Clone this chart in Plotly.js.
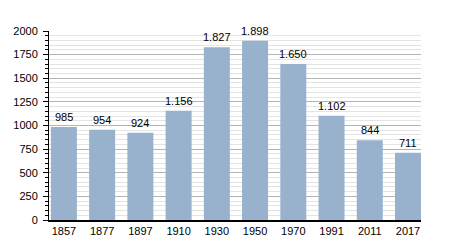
<!DOCTYPE html>
<html>
<head>
<meta charset="utf-8">
<script src="https://cdn.plot.ly/plotly-3.0.1.min.js"></script>
<style>html,body{margin:0;padding:0;background:#fff;}#chart{width:450px;height:250px;}</style>
</head>
<body>
<div id="chart"></div>
<script>
const years = ["1857","1877","1897","1910","1930","1950","1970","1991","2011","2017"];
const population = [985, 954, 924, 1156, 1827, 1898, 1650, 1102, 844, 711];
const yTicks = [0, 250, 500, 750, 1000, 1250, 1500, 1750, 2000];

function fmt(v) {
  const s = String(v);
  return s.length > 3 ? s.slice(0, s.length - 3) + '.' + s.slice(-3) : s;
}

const trace = {
  type: 'bar',
  x: years,
  y: population,
  width: 0.68,
  marker: {color: '#98b2cd', line: {width: 0}},
  hoverinfo: 'none'
};

const annotations = years.map((yr, i) => ({
  x: i, y: population[i], xref: 'x', yref: 'y',
  text: fmt(population[i]),
  showarrow: false, yanchor: 'bottom', xanchor: 'center',
  yshift: 2,
  font: {family: 'Liberation Sans, Arial, sans-serif', size: 11, color: '#000'}
}));

const layout = {
  width: 450, height: 250,
  margin: {l: 49, r: 29, t: 31, b: 30, pad: 0},
  paper_bgcolor: '#fff', plot_bgcolor: '#fff',
  showlegend: false,
  font: {family: 'Liberation Sans, Arial, sans-serif', size: 11, color: '#000'},
  xaxis: {
    type: 'category',
    range: [-0.39, 9.34],
    showline: true, linecolor: '#000', linewidth: 1.5,
    ticks: '', showgrid: false, zeroline: false,
    tickfont: {size: 11}
  },
  yaxis: {
    range: [0, 2000],
    tickvals: yTicks,
    ticktext: yTicks.map(String),
    showline: true, linecolor: '#000', linewidth: 1,
    ticks: 'outside', ticklen: 5, tickcolor: '#000',
    ticklabelstandoff: 3,
    showgrid: true, gridcolor: '#b4b4b4', gridwidth: 1,
    zeroline: false,
    tickfont: {size: 11},
    minor: {dtick: 50, tick0: 0, ticks: 'outside', ticklen: 3, tickcolor: '#000', showgrid: true, gridcolor: '#e4e4e4', gridwidth: 1}
  },
  annotations: annotations
};

Plotly.newPlot('chart', [trace], layout, {staticPlot: true, displayModeBar: false});
</script>
</body>
</html>
